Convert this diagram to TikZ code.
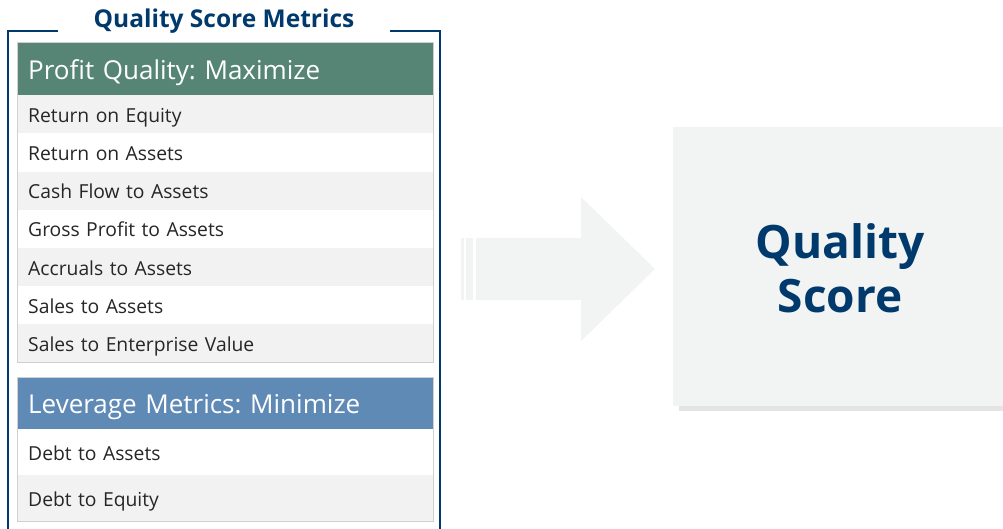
\documentclass[tikz,border=0pt]{standalone}
\usepackage{fontspec}
\setmainfont{Open Sans}
\usepackage{tikz}
\usetikzlibrary{positioning}
\frenchspacing
\definecolor{navy}{HTML}{003A6C}
\definecolor{profitgreen}{HTML}{578575}
\definecolor{leverblue}{HTML}{5F8AB6}
\definecolor{rowgray}{HTML}{F2F2F2}
\definecolor{boxgray}{HTML}{F2F3F3}
\definecolor{shadowgray}{HTML}{E4E4E4}
\definecolor{panelline}{HTML}{D0D0D0}
\definecolor{bodytext}{HTML}{262626}
\tikzset{
    frame/.style={draw=navy, line width=2pt},
    panel/.style={draw=panelline, line width=1pt},
    header/.style={anchor=north west, inner xsep=11pt, inner ysep=0pt, text width=394pt,
        text height=20.6pt, text depth=0pt,
        minimum height=52pt, text=white, font=\fontsize{26}{30}\selectfont},
    metric/.style={anchor=north west, inner xsep=11pt, inner ysep=0pt, text width=394pt,
        text height=16pt, text depth=0pt,
        text=bodytext, font=\fontsize{19.3}{23}\selectfont}
}

\begin{document}
\begin{tikzpicture}[x=1pt, y=-1pt]
    \useasboundingbox (0, 0) rectangle (1003, 529);
    % outer frame with its title
    \node[font=\bfseries\fontsize{24.5}{28}\selectfont, text=navy] (title) at (224, 21) {Quality Score Metrics};
    \draw[frame](58, 31)-|(8, 529);
    \draw[frame](390, 31)-|(440, 529);

    % profit quality panel
    \node[header, fill=profitgreen] (profit) at (17, 43) {Profit Quality: Maximize};
    \foreach \name [count=\i] in {Return on Equity, Return on Assets, Cash Flow to Assets,
        Gross Profit to Assets, Accruals to Assets, Sales to Assets, Sales to Enterprise Value}{
        \pgfmathsetmacro{\shade}{isodd(\i) ? "rowgray" : "white"}
        \node[metric, minimum height=38.2pt, fill=\shade] (p\i) at (17, 95+38.2*\i-38.2) {\name};
    }
    \draw[panel](profit.north west) rectangle (p7.south east);

    % leverage panel
    \node[header, fill=leverblue] (lever) at (17, 377) {Leverage Metrics: Minimize};
    \node[metric, minimum height=45pt, fill=white, below=0pt of lever.south west, anchor=north west] (l1) {Debt to Assets};
    \node[metric, minimum height=46pt, fill=rowgray, below=0pt of l1.south west, anchor=north west] (l2) {Debt to Equity};
    \draw[panel](lever.north west) rectangle (l2.south east);

    % arrow
    \fill[boxgray](461, 238) rectangle (464, 300);
    \fill[boxgray](466, 238) rectangle (473, 300);
    \fill[boxgray](476, 238)--(581, 238)--(581, 197)--(655, 269)--(581, 341)--(581, 300)--(476, 300)--cycle;

    % result box
    \fill[shadowgray](679, 130) rectangle (1003, 410.5);
    \fill[boxgray](673, 127) rectangle (1003, 405.5);
    \node[align=center, text=navy, font=\bfseries\fontsize{46}{54}\selectfont] (score) at (840, 268) {Quality\\Score};
\end{tikzpicture}
\end{document}
